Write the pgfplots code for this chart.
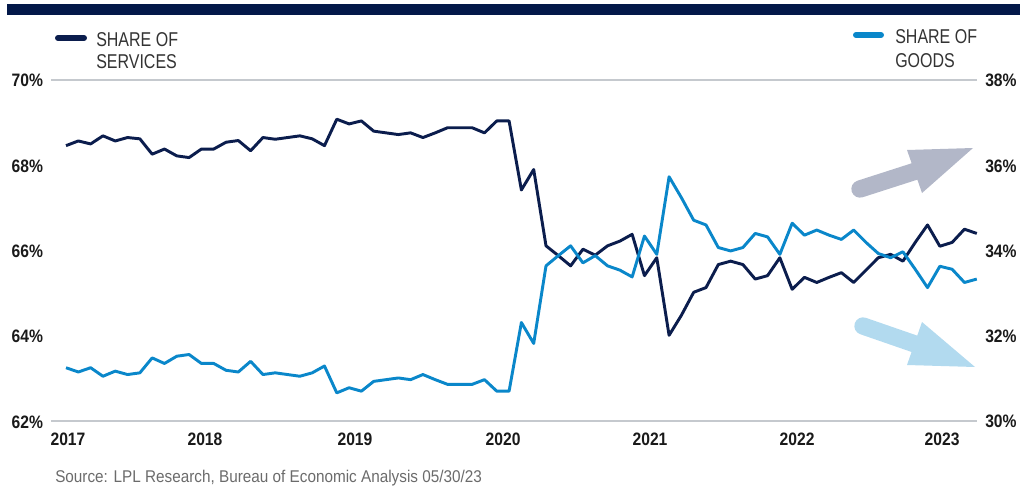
\documentclass[border=0pt]{standalone}
\usepackage{fontspec}
\setmainfont{Liberation Sans}
\newfontfamily\condfont[FakeStretch=0.8]{Liberation Sans}
\newfontfamily\srcfont[FakeStretch=0.9]{Liberation Sans}
\newfontfamily\tickfont[FakeStretch=0.87]{Liberation Sans}
\usepackage{pgfplots}
\pgfplotsset{compat=1.18}
\usepackage{pgfplotstable}
\definecolor{navy}{HTML}{0B1D4D}
\definecolor{topbar}{HTML}{031849}
\definecolor{lblue}{HTML}{0A87CA}
\definecolor{gridgray}{HTML}{C5C9CE}
\definecolor{arrowgray}{HTML}{B2B7C8}
\definecolor{arrowblue}{HTML}{B2DAEF}
\definecolor{ticktext}{HTML}{1A1A1A}
\definecolor{legtext}{HTML}{333333}
\definecolor{srctext}{HTML}{6B6B6B}

\pgfplotstableread{
idx svc gds
0 68.46 31.25
1 68.57 31.15
2 68.50 31.25
3 68.69 31.05
4 68.57 31.17
5 68.65 31.09
6 68.62 31.13
7 68.26 31.48
8 68.38 31.35
9 68.22 31.52
10 68.18 31.56
11 68.38 31.35
12 68.38 31.35
13 68.54 31.19
14 68.58 31.15
15 68.34 31.40
16 68.65 31.09
17 68.61 31.13
18 68.65 31.09
19 68.69 31.05
20 68.62 31.13
21 68.46 31.29
22 69.08 30.66
23 68.97 30.78
24 69.04 30.70
25 68.80 30.93
26 68.76 30.97
27 68.72 31.01
28 68.76 30.97
29 68.65 31.09
30 68.76 30.97
31 68.88 30.86
32 68.88 30.86
33 68.88 30.86
34 68.76 30.97
35 69.04 30.70
36 69.04 30.70
37 67.42 32.31
38 67.90 31.82
39 66.11 33.64
40 65.88 33.88
41 65.64 34.11
42 66.03 33.71
43 65.89 33.88
44 66.11 33.64
45 66.22 33.54
46 66.38 33.38
47 65.41 34.34
48 65.83 33.91
49 64.01 35.73
50 64.48 35.24
51 65.02 34.71
52 65.13 34.60
53 65.67 34.07
54 65.75 33.99
55 65.67 34.07
56 65.33 34.40
57 65.41 34.32
58 65.83 33.91
59 65.09 34.64
60 65.37 34.36
61 65.25 34.48
62 65.37 34.36
63 65.48 34.26
64 65.25 34.48
65 65.54 34.19
66 65.83 33.93
67 65.91 33.83
68 65.75 33.97
69 66.19 33.56
70 66.60 33.13
71 66.10 33.63
72 66.19 33.56
73 66.50 33.25
74 66.40 33.33
}\datatable

\begin{document}
\begin{tikzpicture}
\path[use as bounding box] (0,0) rectangle (765pt,365.25pt);
\begin{axis}[
  at={(38.25pt,49.5pt)}, anchor=south west,
  scale only axis,
  width=694.5pt, height=255.75pt,
  xmin=-1.22, xmax=74.02,
  ymin=62, ymax=70,
  separate axis lines,
  x axis line style={draw=gridgray, line width=1.3pt},
  y axis line style={draw=none},
  major tick length=0pt,
  xtick={0.16,11.29,23.48,35.51,47.45,59.40,71.18},
  xticklabels={2017,2018,2019,2020,2021,2022,2023},
  ytick={62,64,66,68,70},
  yticklabels={62\%,64\%,66\%,68\%,70\%},
  xtick pos=bottom, ytick pos=left,
  /pgf/number format/assume math mode=true,
  xticklabel style={anchor=north, inner sep=0pt, yshift=-8.4pt, font=\tickfont\bfseries\fontsize{13.5pt}{16pt}\selectfont, text=ticktext},
  yticklabel style={anchor=east, inner sep=0pt, xshift=-5.8pt, yshift=-0.6pt, font=\tickfont\bfseries\fontsize{13.5pt}{16pt}\selectfont, text=ticktext},
  clip=false,
]
\addplot[navy, line width=2.2pt, line join=round] table[x=idx, y=svc] {\datatable};
\end{axis}
\begin{axis}[
  at={(38.25pt,49.5pt)}, anchor=south west,
  scale only axis,
  width=694.5pt, height=255.75pt,
  xmin=-1.22, xmax=74.02,
  ymin=30, ymax=38,
  axis line style={draw=none},
  major tick length=0pt,
  xtick=\empty,
  ytick={30,32,34,36,38},
  yticklabels={30\%,32\%,34\%,36\%,38\%},
  ytick pos=right,
  /pgf/number format/assume math mode=true,
  yticklabel style={anchor=west, inner sep=0pt, xshift=6pt, yshift=-0.6pt, font=\tickfont\bfseries\fontsize{13.5pt}{16pt}\selectfont, text=ticktext},
  clip=false,
]
\addplot[lblue, line width=2.2pt, line join=round] table[x=idx, y=gds] {\datatable};
\end{axis}
\begin{scope}[x=0.75pt, y=-0.75pt, shift={(0pt,365.25pt)}]
  \fill[topbar] (7,4) rectangle (1020,15);
  % legend
  \draw[navy, line width=4.5pt, line cap=round] (58,38) -- (84,38);
  \node[anchor=base west, inner sep=0pt, text=legtext, font=\condfont\fontsize{15pt}{18pt}\selectfont] at (96,46.5) {SHARE OF};
  \node[anchor=base west, inner sep=0pt, text=legtext, font=\condfont\fontsize{15pt}{18pt}\selectfont] at (96,68.5) {SERVICES};
  \draw[lblue, line width=4.5pt, line cap=round] (856,35) -- (881,35);
  \node[anchor=base west, inner sep=0pt, text=legtext, font=\condfont\fontsize{15pt}{18pt}\selectfont] at (895,43.5) {SHARE OF};
  \node[anchor=base west, inner sep=0pt, text=legtext, font=\condfont\fontsize{15pt}{18pt}\selectfont] at (895,67) {GOODS};
  % arrows
  \draw[arrowgray, line width=13pt, line cap=round] (860,189) -- (915,171.3);
  \fill[arrowgray] (907,150) -- (973,148) -- (922,193) -- cycle;
  \draw[arrowblue, line width=13pt, line cap=round] (863,326) -- (915,344);
  \fill[arrowblue] (922,322) -- (975,367) -- (907,365) -- cycle;
  % source
  \node[anchor=base west, inner sep=0pt, text=srctext, font=\srcfont\fontsize{12.75pt}{15pt}\selectfont] at (55,482) {Source: LPL Research, Bureau of Economic Analysis 05/30/23};
\end{scope}
\end{tikzpicture}
\end{document}
